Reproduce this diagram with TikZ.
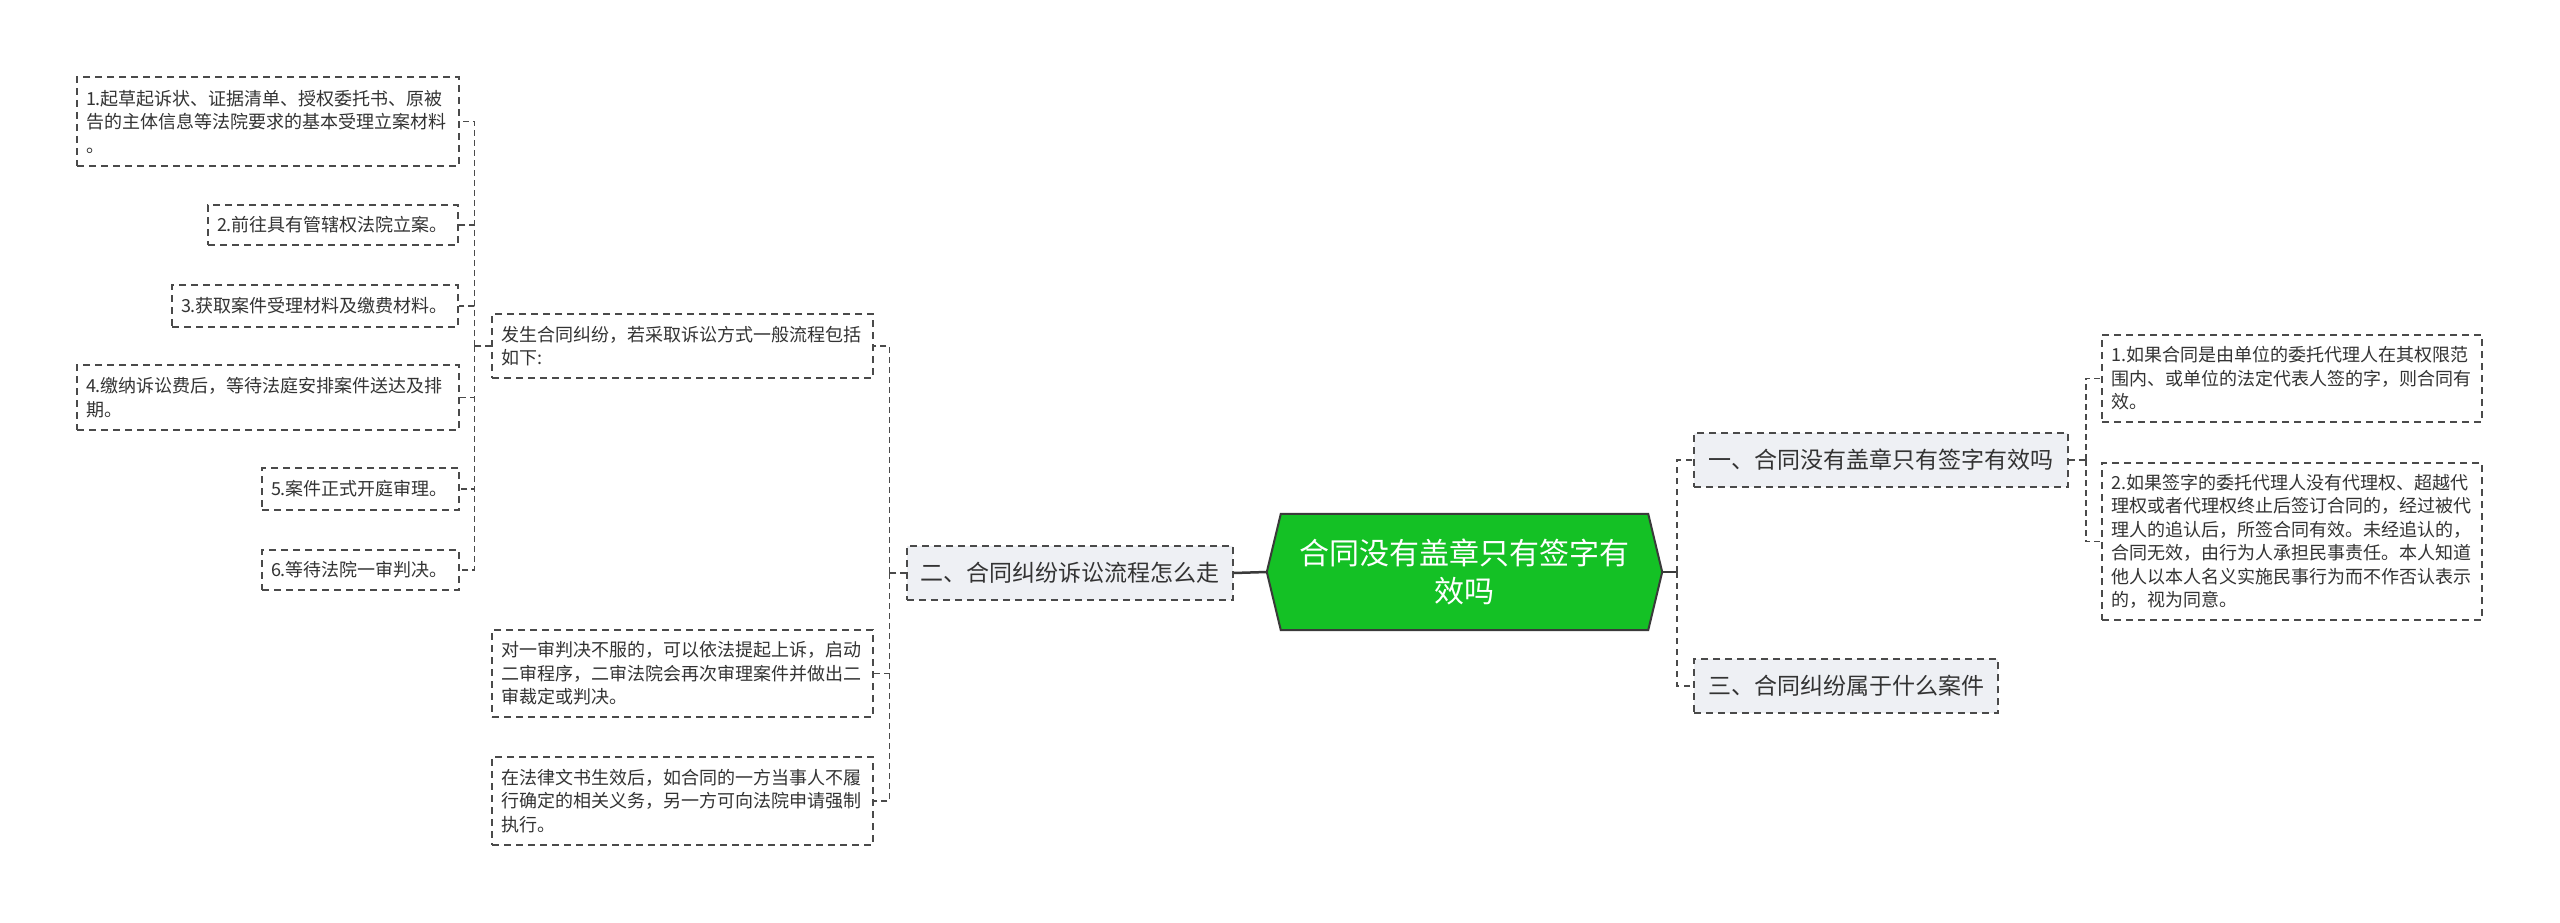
\documentclass[tikz,border=0pt]{standalone}
\usepackage{fontspec}
\setmainfont{Noto Sans CJK SC}
\usetikzlibrary{calc}
\pgfdeclarelayer{bg}
\pgfsetlayers{bg,main}
\definecolor{linegray}{HTML}{4A4A4A}
\definecolor{txt}{HTML}{333333}
\definecolor{topicfill}{HTML}{EEF0F4}
\definecolor{maingreen}{HTML}{14C125}
\definecolor{mainborder}{HTML}{3A3A3A}
\begin{document}
\begin{tikzpicture}[x=1pt,y=-1pt,
 leaf/.style={draw=linegray, line width=1.4pt, dash pattern=on 7pt off 5pt, text=txt,
   font=\fontsize{18}{23.5}\selectfont, align=left, inner xsep=9pt, inner ysep=0pt, anchor=center},
 topic/.style={draw=linegray, fill=topicfill, line width=1.4pt, dash pattern=on 7pt off 5pt, text=txt,
   font=\fontsize{23}{28}\selectfont, inner sep=0pt, minimum height=54pt, align=center},
 conn/.style={draw=linegray, line width=1.6pt, dash pattern=on 6pt off 4pt},
 trunk/.style={draw=linegray, line width=2.4pt, dash pattern=on 6pt off 5pt},
 solidconn/.style={draw=mainborder, line width=2.5pt}]
\useasboundingbox (0,0) rectangle (2560,923);

% central topic
\node[font=\fontsize{30}{38}\selectfont, text=white, align=center, minimum width=395pt,
  minimum height=116pt, inner sep=0pt] (main) at (1464.5,572) {合同没有盖章只有签字有\\效吗};
\begin{pgfonlayer}{bg}
\fill[white] (0,0) rectangle (2560,923);
\draw[fill=maingreen, draw=mainborder, line width=2pt]
  ([xshift=14pt]main.north west) -- ([xshift=-14pt]main.north east) -- (main.east)
  -- ([xshift=-14pt]main.south east) -- ([xshift=14pt]main.south west) -- (main.west) -- cycle;
\end{pgfonlayer}

% level 1
\node[topic, minimum width=326pt] (t2) at (1070,573) {二、合同纠纷诉讼流程怎么走};
\node[topic, minimum width=374pt] (t1) at (1881,460) {一、合同没有盖章只有签字有效吗};
\node[topic, minimum width=304pt] (t3) at (1846,686) {三、合同纠纷属于什么案件};

% left level 2
\node[leaf, text width=363pt, minimum height=64pt] (p1) at (682.5,346) {发生合同纠纷，若采取诉讼方式一般流程包括\\如下:};
\node[leaf, text width=363pt, minimum height=87pt] (p2) at (682.5,673.5) {对一审判决不服的，可以依法提起上诉，启动\\二审程序，二审法院会再次审理案件并做出二\\审裁定或判决。};
\node[leaf, text width=363pt, minimum height=88pt] (p3) at (682.5,801) {在法律文书生效后，如合同的一方当事人不履\\行确定的相关义务，另一方可向法院申请强制\\执行。};

% left level 3
\node[leaf, text width=364pt, minimum height=89pt] (b1) at (268,121.5) {1.起草起诉状、证据清单、授权委托书、原被\\告的主体信息等法院要求的基本受理立案材料\\。};
\node[leaf, text width=232pt, minimum height=40pt] (b2) at (333,225) {2.前往具有管辖权法院立案。};
\node[leaf, text width=268pt, minimum height=42pt] (b3) at (315,306) {3.获取案件受理材料及缴费材料。};
\node[leaf, text width=364pt, minimum height=65pt] (b4) at (268,397.5) {4.缴纳诉讼费后，等待法庭安排案件送达及排\\期。};
\node[leaf, text width=179pt, minimum height=42pt] (b5) at (360.5,489) {5.案件正式开庭审理。};
\node[leaf, text width=179pt, minimum height=40pt] (b6) at (360.5,570) {6.等待法院一审判决。};

% right level 2
\node[leaf, text width=362pt, minimum height=87pt] (r1) at (2292,378.5) {1.如果合同是由单位的委托代理人在其权限范\\围内、或单位的法定代表人签的字，则合同有\\效。};
\node[leaf, text width=362pt, minimum height=157pt] (r2) at (2292,541.5) {2.如果签字的委托代理人没有代理权、超越代\\理权或者代理权终止后签订合同的，经过被代\\理人的追认后，所签合同有效。未经追认的，\\合同无效，由行为人承担民事责任。本人知道\\他人以本人名义实施民事行为而不作否认表示\\的，视为同意。};

% connectors
\draw[solidconn] (main.west) -- (t2.east);
\coordinate (jR) at ($(main.east)+(15,0)$);
\draw[solidconn] (main.east) -- (jR);
\draw[trunk] (jR) |- (t1.west);
\draw[trunk] (jR) |- (t3.west);

\coordinate (jM) at ($(t2.west)+(-17,0)$);
\draw[conn] (t2.west) -- (jM);
\foreach \n in {p1,p2,p3} \draw[conn] (jM) |- (\n.east);

\coordinate (jL) at ($(p1.west)+(-17,0)$);
\draw[conn] (p1.west) -- (jL);
\foreach \n in {b1,b2,b3,b4,b5,b6} \draw[conn] (jL) |- (\n.east);

\coordinate (jRR) at ($(t1.east)+(17,0)$);
\draw[conn] (t1.east) -- (jRR);
\foreach \n in {r1,r2} \draw[conn] (jRR) |- (\n.west);
\end{tikzpicture}
\end{document}
